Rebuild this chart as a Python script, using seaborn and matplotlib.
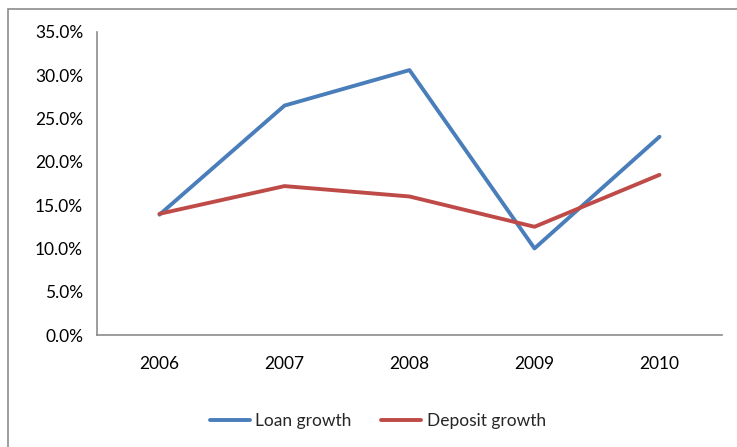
import matplotlib
matplotlib.use("Agg")
import matplotlib.pyplot as plt
import matplotlib.patches as mpatches
from matplotlib.ticker import FixedLocator, PercentFormatter
import numpy as np
import pandas as pd
import seaborn as sns

years = ["2006", "2007", "2008", "2009", "2010"]
loan_growth = [13.9, 26.5, 30.6, 10.0, 22.9]
deposit_growth = [14.0, 17.2, 16.0, 12.5, 18.5]
series_names = ["Loan growth", "Deposit growth"]
y_ticks = [0, 5, 10, 15, 20, 25, 30, 35]

sns.set_theme(style="white")
plt.rcParams["font.family"] = ["Lato", "DejaVu Sans"]

df = pd.DataFrame({
    "pos": list(range(len(years))) * 2,
    "value": loan_growth + deposit_growth,
    "series": [series_names[0]] * len(years) + [series_names[1]] * len(years),
})

fig = plt.figure(figsize=(7.37, 4.47), dpi=100)
ax = fig.add_axes([97 / 737, 1 - 335 / 447, 625 / 737, 303 / 447])

# outer chart-area frame
fig.patches.append(mpatches.Rectangle((8 / 737, -0.05), 1.0, 1 - 9 / 447 + 0.05,
                                      transform=fig.transFigure, fill=False,
                                      edgecolor="#8c8c8c", linewidth=1.2))

palette = {"Loan growth": "#4a7ebb", "Deposit growth": "#be4b48"}
sns.lineplot(data=df, x="pos", y="value", hue="series", palette=palette,
             linewidth=2.8, ax=ax, legend=False)

ax.set_xlim(-0.5, len(years) - 0.5)
ax.set_ylim(0, 35)
ax.set_yticks(y_ticks)
ax.yaxis.set_major_formatter(PercentFormatter(decimals=1))
ax.set_xticks(range(len(years)))
ax.set_xticklabels(years)
ax.xaxis.set_minor_locator(FixedLocator(np.arange(-0.5, len(years), 1.0)))
ax.tick_params(axis="x", which="major", length=0, pad=15, labelsize=12.5, colors="black")
ax.tick_params(axis="x", which="minor", length=5, width=1.2, color="#8c8c8c", direction="out")
ax.tick_params(axis="y", length=5, width=1.2, color="#8c8c8c", direction="out",
               labelsize=12.5, labelcolor="black", pad=5)
ax.set_xlabel("")
ax.set_ylabel("")

for side in ["top", "right"]:
    ax.spines[side].set_visible(False)
for side in ["left", "bottom"]:
    ax.spines[side].set_color("#8c8c8c")
    ax.spines[side].set_linewidth(1.2)

handles = [plt.Line2D([], [], color=palette[n], linewidth=2.8) for n in series_names]
fig.legend(handles, series_names, loc="center", bbox_to_anchor=(378 / 737, 1 - 421 / 447),
           ncol=2, frameon=False, fontsize=12.5, handlelength=2.3, handletextpad=0.3,
           columnspacing=1.7)

fig.savefig("out.png", dpi=100)
